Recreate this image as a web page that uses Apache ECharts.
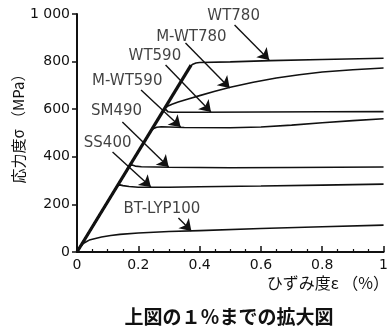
<!DOCTYPE html>
<html><head><meta charset="utf-8">
<script src="https://cdn.jsdelivr.net/npm/echarts@6/dist/echarts.min.js"></script>
<style>html,body{margin:0;padding:0;background:#fff}#c{width:391px;height:331px}</style>
</head><body><div id="c"></div>
<script>
// Stress (MPa) vs strain (%) curves
const elastic  = [[0,0],[0.372,785]];
const wt780    = [[0,0],[0.37,781],[0.378,789],[0.388,794],[0.4,796],[0.5,799],[0.63,804],[0.8,809],[1,814]];
const mwt780   = [[0,0],[0.285,601],[0.295,612],[0.31,621],[0.33,630],[0.36,642],[0.4,657],[0.45,675],[0.5,692],[0.575,713],[0.65,731],[0.725,745],[0.8,756],[0.9,766],[1,773]];
const wt590    = [[0,0],[0.283,597],[0.29,598],[0.297,589],[0.31,587],[0.4,587],[0.6,588],[0.8,589],[1,590]];
const mwt590   = [[0,0],[0.243,513],[0.25,519],[0.26,524],[0.275,526],[0.35,523],[0.5,522],[0.6,525],[0.7,533],[0.8,543],[0.9,552],[1,560]];
const sm490    = [[0,0],[0.172,363],[0.18,366],[0.19,361],[0.21,358],[0.3,356],[0.5,354],[0.7,355],[1,357]];
const ss400    = [[0,0],[0.132,279],[0.14,282],[0.15,279],[0.17,275],[0.2,272],[0.3,272],[0.4,274],[0.6,277],[0.8,281],[1,285]];
const lyp100   = [[0,0],[0.005,14],[0.01,22],[0.02,35],[0.03,43],[0.04,50],[0.06,57],[0.08,63],[0.11,69],[0.14,74],[0.2,80],[0.3,86],[0.4,90],[0.6,99],[0.8,106],[1,113]];

const seriesNames = ['WT780','M-WT780','WT590','M-WT590','SM490','SS400','BT-LYP100'];
const seriesData  = [wt780, mwt780, wt590, mwt590, sm490, ss400, lyp100];
// label anchor (data space) and arrow start/tip (data space)
const labelPos  = [[0.511,992],[0.373,905],[0.254,824],[0.164,718],[0.129,592],[0.10,456],[0.277,181]];
const arrowFrom = [[0.514,954],[0.354,878],[0.289,786],[0.209,681],[0.148,546],[0.116,420],[0.331,143]];
const arrowTo   = [[0.627,807],[0.498,689],[0.437,588],[0.338,525],[0.299,357],[0.241,273],[0.373,88]];

const xTicks = [0,0.2,0.4,0.6,0.8,1];
const yTicks = [0,200,400,600,800,1000];

const chart = echarts.init(document.getElementById('c'), null, {renderer:'canvas'});
const INK = '#111';
const series = [];
seriesData.forEach((d,i)=>{
  series.push({
    name: seriesNames[i], type:'line', data:d, showSymbol:false, symbol:'none',
    smooth:false,
    lineStyle:{color:INK,width:1.6}, silent:true, animation:false, z:3,
    markLine:{
      silent:true, animation:false, symbol:['none','arrow'], symbolSize:11,
      lineStyle:{color:INK,width:1.4,type:'solid'}, label:{show:false},
      itemStyle:{color:INK},
      data:[[{coord:arrowFrom[i]},{coord:arrowTo[i]}]]
    }
  });
});
series.push({type:'line', data:elastic, showSymbol:false, symbol:'none',
  lineStyle:{color:INK,width:3.2}, silent:true, animation:false, z:4});
series.push({type:'scatter', symbolSize:0, silent:true, animation:false,
  data: labelPos.map((p,i)=>({value:p, name:seriesNames[i]})),
  label:{show:true, position:'inside', formatter:'{b}', color:INK,
    fontFamily:'DejaVu Sans', fontSize:15}});

chart.setOption({
  backgroundColor:'#fff',
  animation:false,
  grid:{left:77, right:3, top:14, bottom:79, containLabel:false},
  xAxis:{type:'value', min:xTicks[0], max:xTicks[xTicks.length-1], interval:0.2,
    axisLine:{show:true, lineStyle:{color:INK,width:2}},
    axisTick:{show:true, inside:true, length:6, lineStyle:{color:INK,width:1.5}},
    minorTick:{show:true, splitNumber:4, length:3, lineStyle:{color:INK,width:1.2}},
    splitLine:{show:false},
    axisLabel:{margin:6, color:INK, fontFamily:'DejaVu Sans', fontSize:14,
      formatter:v=> v===0?'0':(v===1?'1':v.toFixed(1))}
  },
  yAxis:{type:'value', min:yTicks[0], max:yTicks[yTicks.length-1], interval:200,
    axisLine:{show:true, lineStyle:{color:INK,width:2}},
    axisTick:{show:true, inside:false, length:5, lineStyle:{color:INK,width:1.5}},
    splitLine:{show:false},
    axisLabel:{margin:7, color:INK, fontFamily:'DejaVu Sans', fontSize:14,
      formatter:v=> v===1000?'1 000':String(v)}
  },
  graphic:[
    {type:'text', x:18, y:125, rotation:Math.PI/2, silent:true,
      style:{text:'応力度σ （MPa）', fill:INK, font:'15px "Noto Sans CJK JP"', align:'center', verticalAlign:'middle'}},
    {type:'text', x:389, y:283, silent:true,
      style:{text:'ひずみ度ε （%）', fill:INK, font:'16px "Noto Sans CJK JP"', align:'right', verticalAlign:'middle'}},
    {type:'text', x:229, y:317, silent:true,
      style:{text:'上図の１％までの拡大図', fill:INK, font:'bold 19px "Noto Sans CJK JP"', align:'center', verticalAlign:'middle'}}
  ],
  series: series
});
</script></body></html>
